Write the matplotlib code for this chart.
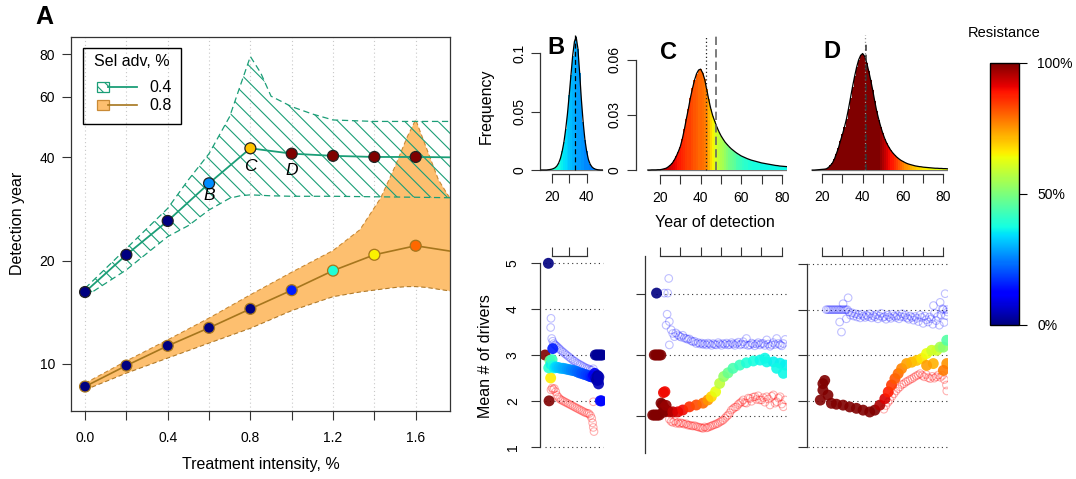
import matplotlib
matplotlib.use('Agg')
import matplotlib.pyplot as plt
import numpy as np
from matplotlib.patches import Rectangle
from matplotlib.lines import Line2D
from matplotlib.colors import Normalize
from matplotlib.colorbar import ColorbarBase

plt.rcParams['font.family'] = ['Liberation Sans', 'DejaVu Sans']
plt.rcParams['hatch.linewidth'] = 0.8

# ---------------- panel A data ----------------
intensity = [0.0, 0.2, 0.4, 0.6, 0.8, 1.0, 1.2, 1.4, 1.6]
det_04 = [16.2, 20.8, 26.1, 33.6, 42.5, 41.0, 40.4, 40.1, 40.1]
det_08 = [8.59, 9.89, 11.29, 12.74, 14.47, 16.4, 18.7, 20.8, 22.1]
res_04 = [0.0, 0.0, 0.0, 0.265, 0.70, 1.0, 1.0, 1.0, 1.0]
res_08 = [0.0, 0.0, 0.0, 0.0, 0.0, 0.155, 0.39, 0.655, 0.80]
line_x = intensity + [1.77]
line_04 = det_04 + [40.0]
line_08 = det_08 + [21.3]

band04_x = [0, 0.2, 0.4, 0.5, 0.6, 0.7, 0.75, 0.8, 0.85, 0.9, 1.0, 1.1, 1.2, 1.4, 1.6, 1.77]
band04_hi = [16.6, 21.7, 28.4, 34.4, 41.0, 52.6, 64.4, 78.7, 70.5, 60.3, 56.2, 53.5, 51.4, 50.9, 50.9, 50.9]
band04_lo = [15.7, 18.8, 23.5, 25.3, 28.1, 30.4, 30.9, 31.1, 31.0, 30.9, 30.8, 30.8, 30.8, 30.7, 30.6, 30.5]

band08_x = [0, 0.2, 0.4, 0.6, 0.8, 1.0, 1.2, 1.33, 1.43, 1.5, 1.56, 1.6, 1.655, 1.71, 1.77]
band08_hi = [8.78, 10.2, 11.75, 13.6, 15.9, 18.5, 21.4, 24.6, 30.4, 37.6, 46.0, 51.5, 42.1, 34.4, 30.1]
band08_lo = [8.4, 9.4, 10.4, 11.5, 12.7, 14.3, 15.7, 16.2, 16.5, 16.7, 16.8, 16.8, 16.7, 16.5, 16.3]

# ---------------- histograms B, C, D ----------------
b_years = list(range(14, 50))
b_freq = [0, 0, 0, 0, 0.0002, 0.0004, 0.0007, 0.0012, 0.002, 0.0035, 0.006, 0.010,
          0.016, 0.024, 0.035, 0.048, 0.064, 0.081, 0.098, 0.110, 0.114, 0.104, 0.083,
          0.060, 0.041, 0.026, 0.016, 0.009, 0.005, 0.0027, 0.0014, 0.0007, 0.0003,
          0.0001, 0, 0]
b_res = [0.40, 0.40, 0.40, 0.40, 0.40, 0.40, 0.40, 0.40, 0.40, 0.39, 0.38, 0.37,
         0.36, 0.35, 0.34, 0.33, 0.32, 0.31, 0.30, 0.30, 0.29, 0.28, 0.28, 0.27,
         0.27, 0.26, 0.26, 0.26, 0.25, 0.25, 0.25, 0.25, 0.25, 0.25, 0.25, 0.25]
b_mean = 33.5

c_years = list(range(14, 84))
c_freq = [0, 0, 0.0001, 0.0001, 0.0001, 0.0002, 0.0002, 0.0004, 0.0007, 0.001, 0.0017,
          0.0026, 0.0037, 0.0054, 0.0075, 0.0100, 0.0128, 0.0170, 0.0222, 0.0280,
          0.0335, 0.0395, 0.0445, 0.0490, 0.0525, 0.0545, 0.0550, 0.0530, 0.0495,
          0.0440, 0.0385, 0.0335, 0.0295, 0.0265, 0.0235, 0.0210, 0.0188, 0.0170,
          0.0153, 0.0140, 0.0128, 0.0117, 0.0108, 0.0099, 0.0091, 0.0084, 0.0077,
          0.0072, 0.0067, 0.0062, 0.0058, 0.0054, 0.0051, 0.0048, 0.0045, 0.0042,
          0.0039, 0.0037, 0.0035, 0.0033, 0.0031, 0.0029, 0.0027, 0.0025, 0.0024,
          0.0022, 0.0021, 0.0020, 0.0019, 0.0018]
c_res = [1.0, 1.0, 1.0, 1.0, 1.0, 0.99, 0.98, 0.97, 0.96, 0.95, 0.94, 0.93, 0.92,
         0.91, 0.90, 0.89, 0.88, 0.87, 0.86, 0.85, 0.84, 0.84, 0.83, 0.82, 0.81,
         0.80, 0.80, 0.79, 0.78, 0.76, 0.72, 0.68, 0.65, 0.62, 0.60, 0.58, 0.56,
         0.55, 0.53, 0.51, 0.49, 0.48, 0.47, 0.46, 0.44, 0.43, 0.42, 0.41, 0.40,
         0.40, 0.39, 0.39, 0.38, 0.38, 0.38, 0.38, 0.37, 0.37, 0.37, 0.37, 0.37,
         0.37, 0.37, 0.37, 0.37, 0.37, 0.37, 0.37, 0.37, 0.37]
c_median = 42.8
c_mean = 47.6

d_years = list(range(15, 83))
d_freq = [0, 0, 0.0001, 0.0002, 0.0003, 0.0004, 0.0005, 0.0007, 0.0014, 0.0025, 0.0038,
          0.0060, 0.0090, 0.0120, 0.0160, 0.0195, 0.0235, 0.0280, 0.0335, 0.0395,
          0.0455, 0.0510, 0.0560, 0.0600, 0.0625, 0.0635, 0.0620, 0.0585, 0.0540,
          0.0490, 0.0435, 0.0375, 0.0320, 0.0275, 0.0235, 0.0200, 0.0170, 0.0145,
          0.0125, 0.0107, 0.0093, 0.0081, 0.0070, 0.0061, 0.0053, 0.0047, 0.0041,
          0.0036, 0.0032, 0.0029, 0.0026, 0.0023, 0.0021, 0.0019, 0.0018, 0.0016,
          0.0015, 0.0014, 0.0013, 0.0012, 0.0011, 0.0010, 0.0010, 0.0009, 0.0009,
          0.0008, 0.0008, 0.0007]
d_res = [1.0] * 34 + [0.98, 0.96, 0.94, 0.92, 0.90, 0.89, 0.88, 0.86, 0.84, 0.82,
                      0.80, 0.78, 0.76, 0.75, 0.74, 0.72, 0.71, 0.70, 0.69, 0.68,
                      0.67, 0.66, 0.66, 0.65, 0.65, 0.64, 0.64, 0.63, 0.63, 0.63,
                      0.63, 0.63, 0.63, 0.63]
d_median = 41.3
d_mean = 41.8

# ---------------- mean # of drivers, B ----------------
b_fill_yr = [18.1, 16.2, 18.5, 19.4, 20.6,
             18.3, 19.0, 19.6, 20.2, 20.8, 21.5, 22.3, 23.2, 24.2, 25.3, 26.4, 27.6,
             28.8, 30.0, 31.2, 32.4, 33.6, 34.8, 36.0, 37.2, 38.4, 39.6, 40.8, 42.0,
             43.0, 43.9, 44.6, 45.2, 45.7,
             45.0, 45.8, 46.6, 47.4, 48.2, 49.0, 46.3, 46.6, 46.8, 47.0, 47.8, 48.5]
b_fill_val = [5.0, 3.0, 2.0, 2.5, 3.14,
              2.72, 2.88, 2.80, 2.90, 2.76, 2.72, 2.74, 2.73, 2.72, 2.71, 2.71, 2.70,
              2.69, 2.68, 2.67, 2.66, 2.65, 2.63, 2.61, 2.60, 2.58, 2.57, 2.55, 2.53,
              2.52, 2.55, 2.60, 2.50, 2.45,
              3.0, 3.0, 3.0, 3.0, 3.0, 3.0, 2.55, 2.45, 2.37, 2.52, 2.0, 2.0]
b_fill_res = [0.0, 1.0, 1.0, 0.66, 0.15,
              0.40, 0.48, 0.36, 0.42, 0.38, 0.36, 0.34, 0.33, 0.32, 0.31, 0.30, 0.29,
              0.28, 0.27, 0.26, 0.25, 0.24, 0.23, 0.22, 0.21, 0.20, 0.19, 0.18, 0.17,
              0.15, 0.12, 0.10, 0.06, 0.03,
              0.02, 0.02, 0.02, 0.02, 0.02, 0.02, 0.03, 0.03, 0.05, 0.05, 0.13, 0.13]
b_hi_yr = [19.4, 19.6, 20.0, 20.6, 21.2, 21.9, 22.5, 23.2, 24.0, 24.8, 25.7, 26.6,
           27.6, 28.5, 29.5, 30.5, 31.4, 32.4, 33.3, 34.3, 35.2, 36.2, 37.1, 38.1,
           39.0, 40.0, 41.0, 41.9, 42.9, 43.8, 44.5]
b_hi_val = [3.60, 3.80, 3.36, 3.30, 3.25, 3.22, 3.20, 3.18, 3.15, 3.12, 3.09, 3.06,
            3.03, 3.00, 2.97, 2.94, 2.91, 2.88, 2.86, 2.83, 2.81, 2.79, 2.77, 2.75,
            2.73, 2.71, 2.70, 2.68, 2.67, 2.70, 2.62]
b_lo_yr = [19.6, 20.2, 20.8, 21.5, 22.3, 23.0, 23.8, 24.6, 25.5, 26.4, 27.4, 28.4,
           29.4, 30.4, 31.4, 32.4, 33.4, 34.4, 35.4, 36.4, 37.4, 38.4, 39.4, 40.4,
           41.3, 42.2, 42.9, 43.4, 43.8, 44.2, 43.8]
b_lo_val = [2.24, 2.28, 2.25, 2.27, 2.20, 2.12, 2.08, 2.04, 2.02, 2.00, 1.98, 1.96,
            1.94, 1.92, 1.90, 1.88, 1.86, 1.84, 1.82, 1.80, 1.78, 1.76, 1.74, 1.73,
            1.72, 1.68, 1.62, 1.52, 1.42, 1.33, 1.98]

# ---------------- mean # of drivers, C ----------------
c_fill_yr = [18.3, 17.2, 18.0, 18.8, 19.6, 20.4, 16.4, 17.2, 18.0, 18.8, 19.6,
             21.7, 22.4, 20.5, 21.2, 22.0, 22.8, 23.6, 24.5, 21.5, 23.0,
             26.3, 28.8, 31.2, 34.5, 37.9, 41.2, 43.6, 45.3, 47.4, 49.4, 51.4, 53.5,
             56.0, 59.3, 62.6, 66.0, 69.3, 72.6, 75.9, 79.2, 81.7, 77.5, 80.8, 71.7]
c_fill_val = [4.35, 3.0, 3.0, 3.0, 3.0, 3.0, 1.69, 1.69, 1.69, 1.69, 1.69,
              2.18, 2.20, 1.95, 1.92, 1.85, 1.80, 1.78, 1.76, 1.75, 1.90,
              1.76, 1.76, 1.80, 1.87, 1.91, 1.95, 2.02, 2.09, 2.20, 2.38, 2.53, 2.61,
              2.71, 2.78, 2.83, 2.87, 2.89, 2.85, 2.85, 2.82, 2.78, 2.71, 2.60, 2.93]
c_fill_res = [0.0, 1.0, 1.0, 1.0, 1.0, 1.0, 1.0, 1.0, 1.0, 1.0, 1.0,
              0.90, 0.90, 1.0, 1.0, 0.98, 0.97, 0.96, 0.95, 1.0, 0.98,
              0.95, 0.92, 0.90, 0.86, 0.83, 0.80, 0.75, 0.68, 0.63, 0.58, 0.53, 0.48,
              0.44, 0.42, 0.39, 0.38, 0.37, 0.37, 0.36, 0.36, 0.36, 0.37, 0.37, 0.37]
c_hi_yr = [22.1, 23.8, 24.3, 23.5, 23.0, 24.6, 25.5, 24.6, 26.3, 27.1, 27.8, 28.8,
           29.6, 30.4, 31.2, 32.0, 32.9, 33.7, 34.5, 35.4, 36.2, 37.0, 37.9, 38.8,
           39.7, 40.5, 41.2, 42.0, 42.9, 43.7, 44.5, 45.4, 46.2, 47.0, 47.8, 48.7,
           49.5, 50.3, 51.1, 52.0, 52.8, 53.6, 54.4, 55.3, 56.1, 56.9, 57.7, 58.6,
           59.4, 60.2, 61.0, 61.8, 62.6, 63.4, 64.3, 65.1, 65.9, 66.7, 67.6, 68.4,
           69.2, 70.0, 70.9, 71.7, 72.6, 73.4, 74.2, 75.0, 75.8, 76.7, 77.5, 78.3,
           79.2, 80.0, 80.8, 81.7]
c_hi_val = [4.35, 4.35, 4.67, 3.89, 3.65, 3.73, 3.55, 3.22, 3.47, 3.40, 3.48, 3.44,
            3.41, 3.39, 3.43, 3.37, 3.36, 3.34, 3.35, 3.31, 3.29, 3.30, 3.25, 3.27,
            3.24, 3.26, 3.23, 3.25, 3.22, 3.26, 3.24, 3.21, 3.25, 3.23, 3.22, 3.27,
            3.24, 3.21, 3.25, 3.23, 3.26, 3.22, 3.23, 3.27, 3.24, 3.21, 3.25, 3.28,
            3.22, 3.24, 3.29, 3.23, 3.36, 3.21, 3.22, 3.26, 3.24, 3.20, 3.24, 3.27,
            3.22, 3.25, 3.25, 3.21, 3.33, 3.24, 3.19, 3.22, 3.27, 3.23, 3.36, 3.25,
            3.22, 3.20, 3.25, 3.34]
c_lo_yr = [24.6, 25.5, 26.3, 27.1, 28.0, 28.8, 29.6, 30.4, 31.2, 32.0, 32.9, 33.7,
           34.5, 35.4, 36.2, 37.0, 37.9, 38.8, 39.7, 40.5, 41.2, 42.0, 42.9, 43.6,
           44.5, 45.3, 46.1, 47.0, 47.8, 48.6, 49.5, 50.3, 51.1, 52.0, 52.8, 53.6,
           54.4, 55.2, 56.1, 56.9, 57.7, 58.5, 59.3, 60.2, 61.0, 61.8, 62.6, 63.5,
           64.3, 65.1, 65.9, 66.8, 67.6, 68.4, 69.2, 70.1, 70.9, 71.7, 72.6, 73.4,
           74.2, 75.1, 75.9, 76.7, 77.5, 78.4, 79.2, 80.0, 80.8, 81.7]
c_lo_val = [1.60, 1.55, 1.53, 1.56, 1.51, 1.53, 1.50, 1.52, 1.51, 1.49, 1.50, 1.47,
            1.47, 1.46, 1.45, 1.46, 1.44, 1.43, 1.42, 1.41, 1.40, 1.43, 1.41, 1.42,
            1.44, 1.45, 1.47, 1.48, 1.50, 1.51, 1.54, 1.56, 1.58, 1.62, 1.66, 1.69,
            1.74, 1.80, 1.83, 1.86, 1.87, 1.92, 1.95, 1.98, 2.02, 1.96, 1.95, 2.06,
            2.05, 1.99, 2.08, 2.09, 2.03, 2.11, 2.02, 2.02, 2.07, 1.97, 2.09, 2.04,
            1.91, 2.10, 2.13, 1.95, 1.98, 2.06, 2.09, 1.93, 1.87, 2.02]
c_levels = [1.67, 3.0, 4.33]

# ---------------- mean # of drivers, D ----------------
d_fill_yr = [19.0, 20.3, 21.2, 20.3, 22.8, 24.5, 27.0, 30.3, 33.6, 36.9, 40.2, 43.5,
             46.0, 48.5, 51.0, 52.7, 54.3, 56.0, 57.6, 59.3, 61.8, 64.3, 66.8, 69.3,
             71.7, 74.2, 76.7, 78.4, 80.0, 81.7, 81.7, 80.0, 75.0, 71.7]
d_fill_val = [2.02, 2.38, 2.45, 2.24, 2.13, 1.95, 1.93, 1.91, 1.87, 1.84, 1.80, 1.76,
              1.80, 1.91, 2.05, 2.20, 2.35, 2.49, 2.60, 2.71, 2.82, 2.85, 2.89, 2.93,
              3.04, 3.11, 3.11, 3.18, 3.18, 3.33, 2.82, 2.67, 2.82, 2.78]
d_fill_res = [1.0, 1.0, 1.0, 1.0, 1.0, 1.0, 1.0, 1.0, 1.0, 1.0, 1.0, 1.0,
              1.0, 0.96, 0.92, 0.88, 0.85, 0.82, 0.80, 0.77, 0.74, 0.72, 0.70, 0.67,
              0.64, 0.60, 0.60, 0.55, 0.52, 0.45, 0.75, 0.78, 0.72, 0.74]
d_hi_yr = [22.0, 22.8, 23.6, 24.4, 25.2, 26.0, 26.8, 27.6, 28.4, 29.2, 30.0, 30.8,
           31.6, 32.4, 30.3, 32.8, 28.6, 29.5, 31.9, 33.2, 34.0, 34.8, 35.6, 36.4,
           37.2, 38.0, 38.8, 39.6, 40.4, 41.2, 42.0, 42.8, 43.6, 44.4, 45.2, 46.0,
           46.8, 47.6, 48.4, 49.2, 50.0, 50.8, 51.6, 52.4, 53.2, 54.0, 54.8, 55.6,
           56.4, 57.2, 58.0, 58.8, 59.6, 60.4, 61.2, 62.0, 62.8, 63.6, 64.4, 65.2,
           66.0, 66.8, 67.6, 68.4, 69.2, 70.0, 70.8, 71.6, 72.4, 73.2, 74.0, 74.8,
           75.6, 76.4, 77.2, 78.0, 78.8, 79.6, 80.4, 81.2, 82.0, 80.9, 75.1, 78.4,
           81.7, 79.9]
d_hi_val = [4.0, 4.0, 4.0, 4.0, 4.0, 4.0, 4.0, 4.0, 4.0, 4.0, 4.0, 4.0,
            4.0, 4.0, 4.13, 4.26, 3.73, 3.51, 3.80, 3.95, 3.88, 3.93, 3.86, 3.91,
            3.84, 3.89, 3.82, 3.90, 3.86, 3.83, 3.88, 3.85, 3.91, 3.82, 3.87, 3.84,
            3.89, 3.80, 3.86, 3.92, 3.83, 3.85, 3.79, 3.88, 3.84, 3.81, 3.90, 3.86,
            3.83, 3.87, 3.80, 3.85, 3.91, 3.84, 3.88, 3.82, 3.79, 3.86, 3.83, 3.77,
            3.85, 3.81, 3.74, 3.88, 3.83, 3.70, 3.86, 3.78, 3.73, 3.84, 3.80, 3.68,
            3.92, 3.76, 3.85, 3.66, 3.89, 4.02, 3.72, 3.87, 3.95, 4.35, 4.09, 4.16,
            4.0, 4.0]
d_lo_yr = [50.5, 51.5, 52.5, 53.5, 54.5, 55.5, 56.5, 57.5, 58.5, 59.5, 60.5, 61.5,
           62.5, 63.5, 64.5, 65.5, 66.5, 67.5, 68.5, 69.5, 70.5, 71.5, 72.5, 73.5,
           74.5, 75.5, 76.5, 77.5, 78.5, 79.5, 80.5, 81.5, 81.7]
d_lo_val = [1.82, 1.90, 1.97, 2.02, 2.10, 2.16, 2.22, 2.27, 2.31, 2.36, 2.38, 2.42,
            2.44, 2.47, 2.49, 2.52, 2.55, 2.57, 2.60, 2.56, 2.53, 2.58, 2.51, 2.49,
            2.54, 2.50, 2.53, 2.57, 2.52, 2.56, 2.47, 2.35, 2.22]
drv_levels = [1, 2, 3, 4, 5]

# ---------------- styling ----------------
green = '#1b9e77'
brown = '#a6761d'
orange_fill = '#fdbf6f'
jet = plt.cm.jet

W, H = 1076, 479
fig = plt.figure(figsize=(W / 100, H / 100), dpi=100)


def box(l, t, r, b):
    return fig.add_axes([l / W, 1 - b / H, (r - l) / W, (b - t) / H])


def ftext(x, y, s, **kw):
    fig.text(x / W, 1 - y / H, s, **kw)


def fx(x):
    return x / W


def fy(y):
    return 1 - y / H


tick_kw = dict(direction='out', length=6.5, width=0.8, labelsize=10, color='#333333')

# ================= panel A =================
ax = box(71, 37, 450, 411)
ax.set_yscale('log')
ax.set_xlim(-0.068, 1.766)
ax.set_ylim(7.29, 89.7)
for v in intensity:
    ax.axvline(v, color='#c8c8c8', lw=0.8, ls=(0, (1, 2.5)), zorder=0)

ax.fill_between(band08_x, band08_lo, band08_hi, facecolor=orange_fill, edgecolor='none', zorder=1)
ax.plot(band08_x, band08_hi, color='#c98a36', lw=0.8, ls=(0, (4, 2.5)), zorder=2)
ax.plot(band08_x, band08_lo, color='#b07a2a', lw=0.8, ls=(0, (4, 2.5)), zorder=2)

ax.fill_between(band04_x, band04_lo, band04_hi, facecolor='none', edgecolor=green,
                hatch='\\\\', lw=0, zorder=2)
ax.plot(band04_x, band04_hi, color=green, lw=0.9, ls=(0, (5, 3)), zorder=3)
ax.plot(band04_x, band04_lo, color=green, lw=0.9, ls=(0, (5, 3)), zorder=3)

ax.plot(line_x, line_08, color=brown, lw=1.2, zorder=4)
ax.plot(line_x, line_04, color=green, lw=1.3, zorder=4)
ax.scatter(intensity, det_08, s=62, c=jet(np.array(res_08)), edgecolors=brown, linewidths=0.9, zorder=5)
ax.scatter(intensity, det_04, s=62, c=jet(np.array(res_04)), edgecolors='#222222', linewidths=0.9, zorder=5)

ax.text(intensity[3], 31.0, 'B', style='italic', fontsize=12.5, ha='center', va='center', zorder=6)
ax.text(intensity[4], 37.6, 'C', style='italic', fontsize=12.5, ha='center', va='center', zorder=6)
ax.text(intensity[5], 36.6, 'D', style='italic', fontsize=12.5, ha='center', va='center', zorder=6)

ax.set_xticks(intensity)
ax.set_xticklabels(['0.0', '', '0.4', '', '0.8', '', '1.2', '', '1.6'])
ax.set_yticks([10, 20, 40, 60, 80])
ax.set_yticklabels(['10', '20', '40', '60', '80'])
ax.yaxis.set_minor_locator(matplotlib.ticker.NullLocator())
ax.tick_params(axis='both', **tick_kw)
ax.tick_params(axis='x', pad=8)
ax.tick_params(axis='y', pad=5)
for s in ax.spines.values():
    s.set_linewidth(0.9)
    s.set_color('#333333')
ftext(18, 223, 'Detection year', rotation=90, fontsize=11.5, ha='center', va='center')
ftext(261, 464, 'Treatment intensity, %', fontsize=11.5, ha='center', va='center')
ftext(44, 17.5, 'A', fontsize=18, fontweight='bold', ha='center', va='center')

# legend drawn in figure pixels
fig.add_artist(Rectangle((fx(83), fy(124)), 98 / W, 76 / H, fill=False, edgecolor='black',
                         lw=1.0, transform=fig.transFigure))
ftext(131.7, 62, 'Sel adv, %', fontsize=11.5, ha='center', va='center')
fig.add_artist(Line2D([fx(108), fx(137)], [fy(86.7), fy(86.7)], color=green, lw=1.3,
                      transform=fig.transFigure))
fig.add_artist(Rectangle((fx(97), fy(91.7)), 11.5 / W, 10 / H, facecolor='white',
                         edgecolor=green, hatch='\\\\\\', lw=0.9, transform=fig.transFigure))
ftext(161, 87, '0.4', fontsize=11.5, ha='center', va='center')
fig.add_artist(Line2D([fx(108), fx(137)], [fy(105), fy(105)], color=brown, lw=1.2,
                      transform=fig.transFigure))
fig.add_artist(Rectangle((fx(97), fy(110)), 11.5 / W, 10 / H, facecolor=orange_fill,
                         edgecolor='#c98a36', lw=0.9, transform=fig.transFigure))
ftext(161, 105.5, '0.8', fontsize=11.5, ha='center', va='center')


# ================= histograms =================
def hist_panel(a, yrs, freq, res, xl, yl):
    a.bar(yrs, freq, width=1.0, color=jet(np.array(res)), edgecolor='none', lw=0, zorder=1)
    a.plot(yrs, freq, color='black', lw=0.9, zorder=3)
    a.plot([yrs[0], yrs[-1]], [0, 0], color='#777777', lw=0.9, zorder=0)
    a.set_xlim(*xl)
    a.set_ylim(*yl)
    a.spines['top'].set_visible(False)
    a.spines['right'].set_visible(False)
    for s in a.spines.values():
        s.set_linewidth(0.9)
        s.set_color('#333333')
    a.tick_params(axis='both', **tick_kw)
    a.tick_params(axis='x', pad=5)
    a.patch.set_alpha(0)


axb = box(540, 35, 605, 174.3)
hist_panel(axb, b_years, b_freq, b_res, (13.3, 50.5), (-0.0037, 0.1157))
axb.plot([b_mean, b_mean], [0, 0.1157], color='black', lw=0.9, ls=(0, (4, 2.5)), zorder=4)
axb.spines['left'].set_bounds(0, 0.1)
axb.spines['bottom'].set_bounds(20, 40)
axb.set_xticks([20, 30, 40])
axb.set_xticklabels(['20', '', '40'])
axb.set_yticks([0, 0.05, 0.1])
axb.set_yticklabels(['0', '0.05', '0.1'], rotation=90, va='center')

axc = box(635.7, 35, 787, 175)
hist_panel(axc, c_years, c_freq, c_res, (8.03, 82.56), (-0.0027, 0.0736))
axc.plot([c_median, c_median], [0, 0.0736], color='#222222', lw=0.9, ls=(0, (1, 2)), zorder=4)
axc.plot([c_mean, c_mean], [0, 0.0736], color='#666666', lw=1.2, ls=(0, (5, 2.5)), zorder=4)
axc.spines['left'].set_bounds(0, 0.06)
axc.spines['bottom'].set_bounds(20, 80)
axc.set_xticks([20, 30, 40, 50, 60, 70, 80])
axc.set_xticklabels(['20', '', '40', '', '60', '', '80'])
axc.set_yticks([0, 0.03, 0.06])
axc.set_yticklabels(['0', '0.03', '0.06'], rotation=90, va='center')

axd = box(806.7, 35, 948, 174.3)
hist_panel(axd, d_years, d_freq, d_res, (12.27, 82.3), (-0.0023, 0.0736))
axd.plot([d_median, d_median], [0, 0.0745], color='#999999', lw=0.9, ls=(0, (1, 2)), zorder=4)
axd.plot([d_mean, d_mean], [0, 0.0705], color='#333333', lw=1.1, ls=(0, (4, 2.5)), zorder=4)
axd.spines['left'].set_visible(False)
axd.spines['bottom'].set_bounds(20, 80)
axd.set_xticks([20, 30, 40, 50, 60, 70, 80])
axd.set_xticklabels(['20', '', '40', '', '60', '', '80'])
axd.set_yticks([])

ftext(556, 47.7, 'B', fontsize=17, fontweight='bold', ha='center', va='center')
ftext(668.7, 52.8, 'C', fontsize=17, fontweight='bold', ha='center', va='center')
ftext(831.7, 51.7, 'D', fontsize=17, fontweight='bold', ha='center', va='center')
ftext(486.7, 106, 'Frequency', rotation=90, fontsize=11.5, ha='center', va='center')
ftext(715, 222, 'Year of detection', fontsize=11.5, ha='center', va='center')


# ================= mean number of drivers =================
def drivers_panel(a, fy_, fv, fr, hy, hv, ly, lv, xl, yl, levels, gx):
    for lv_ in levels:
        a.plot(gx, [lv_, lv_], color='#333333', lw=0.8, ls=(0, (1, 3)), zorder=0)
    a.scatter(ly, lv, s=30, facecolors='none', edgecolors=(1, 0, 0, 0.3), linewidths=0.8, zorder=1)
    a.scatter(hy, hv, s=30, facecolors='none', edgecolors=(0, 0, 1, 0.25), linewidths=0.8, zorder=1)
    a.scatter(fy_, fv, s=62, c=jet(np.array(fr)), edgecolors='none', alpha=0.9, zorder=2)
    a.set_xlim(*xl)
    a.set_ylim(*yl)
    a.xaxis.tick_top()
    a.spines['bottom'].set_visible(False)
    a.spines['right'].set_visible(False)
    for s in a.spines.values():
        s.set_linewidth(0.9)
        s.set_color('#333333')
    a.tick_params(axis='both', **tick_kw)
    a.tick_params(axis='x', labeltop=False)
    a.patch.set_alpha(0)


axb2 = box(540, 255.7, 605, 455)
drivers_panel(axb2, b_fill_yr, b_fill_val, b_fill_res, b_hi_yr, b_hi_val, b_lo_yr, b_lo_val,
              (13.3, 50.5), (0.819, 5.166), drv_levels, [16, 49.5])
axb2.spines['top'].set_bounds(20, 40)
axb2.spines['left'].set_bounds(1, 5)
axb2.set_xticks([20, 30, 40])
axb2.set_yticks(drv_levels)
axb2.set_yticklabels([str(v) for v in drv_levels], rotation=90, va='center')
axb2.tick_params(axis='y', pad=8)

axc2 = box(645, 255.7, 787, 453.3)
drivers_panel(axc2, c_fill_yr, c_fill_val, c_fill_res, c_hi_yr, c_hi_val, c_lo_yr, c_lo_val,
              (12.6, 82.6), (0.856, 5.166), c_levels, [18, 82.5])
axc2.spines['top'].set_bounds(20, 80)
axc2.set_xticks([20, 30, 40, 50, 60, 70, 80])
axc2.set_yticks(c_levels)
axc2.set_yticklabels([])

axd2 = box(806.7, 256, 948, 455)
drivers_panel(axd2, d_fill_yr, d_fill_val, d_fill_res, d_hi_yr, d_hi_val, d_lo_yr, d_lo_val,
              (12.27, 82.3), (0.818, 5.175), drv_levels, [13, 82.3])
axd2.spines['top'].set_bounds(20, 80)
axd2.spines['left'].set_bounds(1, 5)
axd2.set_xticks([20, 30, 40, 50, 60, 70, 80])
axd2.set_yticks(drv_levels)
axd2.set_yticklabels([])

ftext(486, 356, 'Mean # of drivers', rotation=90, fontsize=11.5, ha='center', va='center')

# ================= colour bar =================
cax = box(990, 62.7, 1019.3, 325)
cb = ColorbarBase(cax, cmap=jet, norm=Normalize(0, 1), orientation='vertical')
cb.outline.set_linewidth(1.0)
cb.set_ticks([0, 0.5, 1])
cb.set_ticklabels(['0%', '50%', '100%'])
cax.tick_params(direction='out', length=6, width=0.8, labelsize=10, pad=7)
ftext(1004.5, 33.3, 'Resistance', fontsize=10.5, ha='center', va='center')

fig.savefig('out.png', dpi=100)
